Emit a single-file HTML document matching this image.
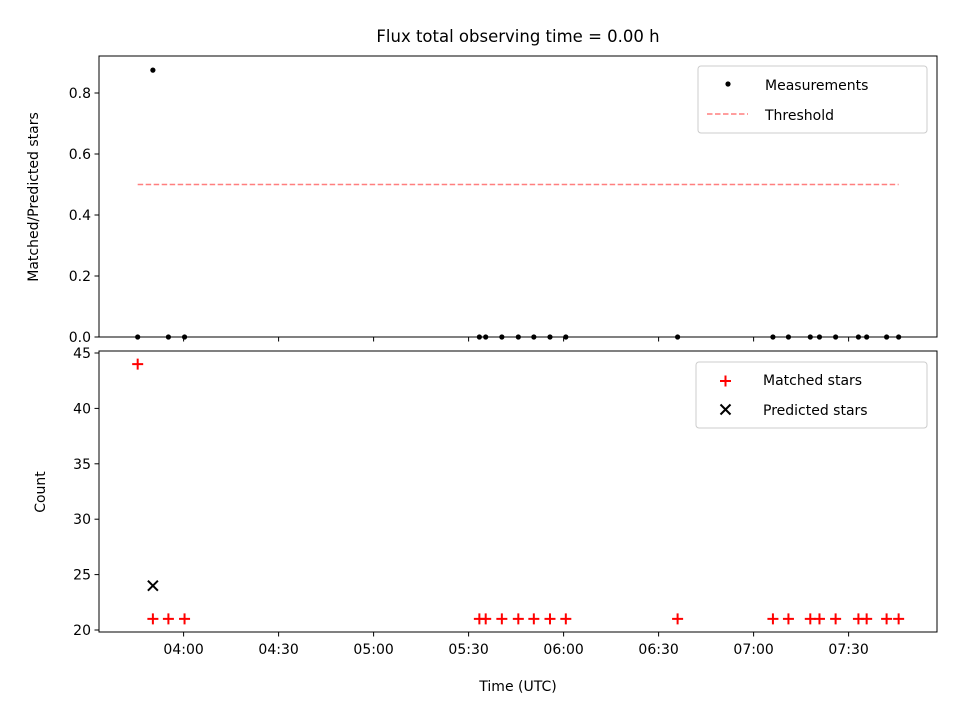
<!DOCTYPE html>
<html><head><meta charset="utf-8">
<style>
body{margin:0;background:#fff;}
svg text{font-family:"DejaVu Sans","Liberation Sans",sans-serif;fill:#000;}
</style></head>
<body>
<svg id="chart" width="960" height="720" xmlns="http://www.w3.org/2000/svg">
<text x="518" y="42" font-size="16.5" text-anchor="middle">Flux total observing time = 0.00 h</text>
<g id="topAxes"></g>
<g id="botAxes"></g>
</svg>
<script>
// minutes since 03:00 UTC
const times = [45.5,50.3,55.2,60.3,153.4,155.4,160.5,165.7,170.6,175.7,180.7,216,246.1,251,257.9,260.8,265.9,273.1,275.7,282,285.8];
const ratios = [0,0.875,0,0,0,0,0,0,0,0,0,0,0,0,0,0,0,0,0,0,0];
const matched = [44,21,21,21,21,21,21,21,21,21,21,21,21,21,21,21,21,21,21,21,21];
const predictedTimes = [50.3];
const predicted = [24];
const threshold = 0.5;
const xTickVals = [60,90,120,150,180,210,240,270];
const xTickLabels = ["04:00","04:30","05:00","05:30","06:00","06:30","07:00","07:30"];
const topTicks = [0.0,0.2,0.4,0.6,0.8];
const botTicks = [20,25,30,35,40,45];

const NS="http://www.w3.org/2000/svg";
const L=99,R=937;
const T1=56,B1=337,T2=351,B2=632;
function xs(t){return 183.6+(t-60)*3.1667;}
function y1(v){return 337-v*305;}
function y2(v){return 630-(v-20)*11.08;}
function mk(parent,tag,attrs){const e=document.createElementNS(NS,tag);for(const k in attrs)e.setAttribute(k,attrs[k]);parent.appendChild(e);return e;}
const gTop=document.getElementById('topAxes'),gBot=document.getElementById('botAxes');

function frame(g,T,B,name){
  const r=mk(g,'rect',{x:L,y:T,width:R-L,height:B-T,fill:'none',stroke:'#000','stroke-width':1});
  
  
  xTickVals.forEach(v=>{
    const l=mk(g,'line',{x1:xs(v),x2:xs(v),y1:B,y2:B+4.5,stroke:'#000','stroke-width':1});
    
    
  });
}
frame(gTop,T1,B1,'top-axes-frame');
frame(gBot,T2,B2,'bottom-axes-frame');

topTicks.forEach(v=>{
  const l=mk(gTop,'line',{x1:L-4.5,x2:L,y1:y1(v),y2:y1(v),stroke:'#000'});
  
  
  const t=mk(gTop,'text',{x:L-8,y:y1(v)+5,'font-size':14,'text-anchor':'end'});
  t.textContent=v.toFixed(1);
  
  
});
botTicks.forEach(v=>{
  const l=mk(gBot,'line',{x1:L-4.5,x2:L,y1:y2(v),y2:y2(v),stroke:'#000'});
  
  
  const t=mk(gBot,'text',{x:L-8,y:y2(v)+5,'font-size':14,'text-anchor':'end'});
  t.textContent=v;
  
  
});
xTickVals.forEach((v,i)=>{
  const t=mk(gBot,'text',{x:xs(v),y:B2+22,'font-size':14,'text-anchor':'middle'});
  t.textContent=xTickLabels[i];
  
  
});

let t=mk(gTop,'text',{x:0,y:0,'font-size':14,'text-anchor':'middle',transform:'translate(38,197) rotate(-90)'});
t.textContent='Matched/Predicted stars';


t=mk(gBot,'text',{x:0,y:0,'font-size':14,'text-anchor':'middle',transform:'translate(45,492) rotate(-90)'});
t.textContent='Count';


t=mk(gBot,'text',{x:518,y:691,'font-size':14,'text-anchor':'middle'});
t.textContent='Time (UTC)';



const th=mk(gTop,'line',{x1:xs(times[0]),x2:xs(times[times.length-1]),y1:y1(threshold),y2:y1(threshold),stroke:'#ff7f7f','stroke-width':1.5,'stroke-dasharray':'5.5,2.5'});



times.forEach((tm,i)=>{
  const c=mk(gTop,'circle',{cx:xs(tm),cy:y1(ratios[i]),r:2.6,fill:'#000'});
  
  
  const x=xs(tm),y=y2(matched[i]);
  const p=mk(gBot,'path',{d:`M${x-5.5},${y}H${x+5.5}M${x},${y-5.5}V${y+5.5}`,stroke:'#ff0000','stroke-width':2});
  
  
});
predictedTimes.forEach((tm,i)=>{
  const x=xs(tm),y=y2(predicted[i]);
  const p=mk(gBot,'path',{d:`M${x-5},${y-5}L${x+5},${y+5}M${x-5},${y+5}L${x+5},${y-5}`,stroke:'#000','stroke-width':2});
  
  
});

function legend(g,x,y,w,h,name){
  const r=mk(g,'rect',{x:x,y:y,width:w,height:h,rx:3,fill:'#fff','fill-opacity':0.8,stroke:'#ccc'});
  
  
}
legend(gTop,698,66,229,67,'top-legend');
let c=mk(gTop,'circle',{cx:728,cy:84,r:2.6,fill:'#000'});


t=mk(gTop,'text',{x:765,y:90,'font-size':14});t.textContent='Measurements';


let p=mk(gTop,'line',{x1:707,x2:748,y1:114,y2:114,stroke:'#ff7f7f','stroke-width':1.5,'stroke-dasharray':'5.5,2.5'});


t=mk(gTop,'text',{x:765,y:120,'font-size':14});t.textContent='Threshold';



legend(gBot,696,362,231,66,'bottom-legend');
p=mk(gBot,'path',{d:'M720,381H731M725.5,375.5V386.5',stroke:'#ff0000','stroke-width':2});


t=mk(gBot,'text',{x:763,y:385,'font-size':14});t.textContent='Matched stars';


p=mk(gBot,'path',{d:'M720.5,404.5L730.5,414.5M720.5,414.5L730.5,404.5',stroke:'#000','stroke-width':2});


t=mk(gBot,'text',{x:763,y:415,'font-size':14});t.textContent='Predicted stars';


</script>
</body></html>
